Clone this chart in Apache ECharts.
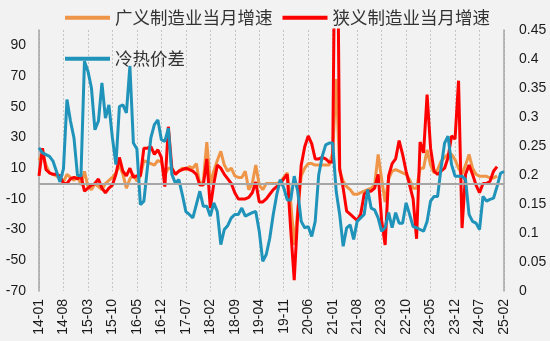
<!DOCTYPE html>
<html><head><meta charset="utf-8">
<script src="https://cdn.jsdelivr.net/npm/echarts@6/dist/echarts.min.js"></script>
<style>html,body{margin:0;padding:0;background:#f2f2f2}#c{width:550px;height:341px}</style>
</head><body><div id="c"></div>
<script>
// categories: monthly 2014-01 .. 2025-02
const startYear = 2014, monthCount = 134;
const categories = [];
for (let k = 0; k < monthCount; k++) {
  const y = startYear + Math.floor(k / 12), m = k % 12 + 1;
  categories.push(String(y).slice(2) + '-' + String(m).padStart(2, '0'));
}
const seriesNames = ['广义制造业当月增速', '狭义制造业当月增速', '冷热价差'];
const leftTickLabels = [-70, -50, -30, -10, 10, 30, 50, 70, 90];

const broadGrowth = [
  15,20,12,7,6,5,3,1,6,4,2,5,-1,8,-2,-4,0,-2,-4,0,
  2,4,7,12,6,-3,3,6,1.5,5,15,14,13,12,15,14,6,10,10,6,
  8,10,9,11,10,13,-1,1.5,27,0,8,15,21,12,8,10,5,4,4,8,
  -4,0,12,-1,-4,0,0,0,0,1,4,7,-12,-40,-18,5,10,13,13,12,
  12,12,12,12,20,68,8,1.5,-2,-4,-7,-7,-6,-5,-4,-3,-1,19,3,-12,
  3,8,9,8,7,6,2.5,-3,-3,10,10,22,12,7,9,14.5,17,19,19,15.6,
  10,6,12,19,10,6,4.7,4.7,4.7,3.6,3.6,5,null,null
];
const narrowGrowth = [
  5,23,9,7,6,6,5,0,0,3,4,3,5,-5,-3,-1,0,3,-3,-6,
  -3,-1,6,17,8,5,10,4,5,5,23,23,24,19,22,17,-2,37,10,6,
  8,9,10,9,8,6,-1,-1,16,-16,0,12,10,6,3,0,-6,-10,-10,-10,
  -9,-6,1,-12,-12,-10,-7,-4,-2,0,3,6,-30,-63,-20,12,24,31,26,16,
  16,17,16,14,14,260,10,-3,-18,-20,-22,-24,-20,-7,-5,-5,-3,6,-24,-40,
  5,13,16,28,19,8,-1,-10,-36,27,20,58,23,8,6,8,10,17,31,29,
  67,-29,6,12,6,-1,-6,0,0,1.5,8,11,null,null
];
const spread = [
  0.247,0.238,0.235,0.232,0.224,0.206,0.188,0.211,0.33,0.293,0.264,0.2,0.198,0.396,0.379,0.35,0.278,0.293,0.359,0.298,
  0.321,0.264,0.218,0.318,0.321,0.307,0.388,0.255,0.245,0.149,0.155,0.212,0.264,0.287,0.295,0.261,0.258,0.281,0.201,0.186,
  0.192,0.166,0.137,0.132,0.126,0.149,0.172,0.146,0.146,0.129,0.152,0.137,0.08,0.106,0.113,0.126,0.132,0.132,0.143,0.129,
  0.132,0.135,0.137,0.103,0.051,0.063,0.091,0.132,0.166,0.192,0.178,0.157,0.157,0.198,0.172,0.12,0.109,0.111,0.094,0.12,
  0.2,0.232,0.252,0.255,0.255,0.172,0.132,0.077,0.109,0.114,0.089,0.12,0.126,0.132,0.175,0.143,0.14,0.126,0.103,0.109,
  0.135,0.109,0.135,0.117,0.117,0.152,0.132,0.111,0.109,0.106,0.103,0.12,0.155,0.163,0.163,0.212,0.255,0.267,0.218,0.198,
  0.198,0.198,0.192,0.132,0.12,0.117,0.106,0.163,0.155,0.158,0.16,0.18,0.203,0.206
];

const labelFont = { fontFamily: 'Liberation Sans', fontSize: 14, color: '#1a1a1a' };
const legendText = { fontFamily: 'Noto Sans CJK SC', fontSize: 17.5, color: '#333333' };

const chart = echarts.init(document.getElementById('c'), null, { renderer: 'canvas' });
chart.setOption({
  animation: false,
  backgroundColor: '#f2f2f2',
  grid: { left: 39, right: 46, top: 30, bottom: 50, containLabel: false },
  legend: [
    { data: [seriesNames[0], seriesNames[1]], left: 60, top: 4, icon: 'rect', itemWidth: 45, itemHeight: 4, itemGap: 10, textStyle: legendText },
    { data: [seriesNames[2]], left: 60, top: 45, icon: 'rect', itemWidth: 45, itemHeight: 4, textStyle: legendText }
  ],
  xAxis: {
    type: 'category', data: categories, boundaryGap: false,
    axisLine: { show: false }, axisTick: { show: false },
    axisLabel: Object.assign({ interval: 6, rotate: 90, margin: 8 }, labelFont),
    splitLine: { show: true, interval: 6, lineStyle: { type: [2, 2], color: '#c4c4c4', width: 1 } }
  },
  yAxis: [
    {
      type: 'value', position: 'left', min: -70, max: 100, interval: 10,
      axisLine: { show: true, lineStyle: { color: '#a6a6a6', width: 1.5 } },
      axisTick: { show: false }, splitLine: { show: false },
      axisLabel: Object.assign({ margin: 13, formatter: v => leftTickLabels.includes(v) ? String(v) : '' }, labelFont)
    },
    {
      type: 'value', position: 'right', min: 0, max: 0.45, interval: 0.05,
      axisLine: { show: true, lineStyle: { color: '#a6a6a6', width: 1.5 } },
      axisTick: { show: false }, splitLine: { show: false },
      axisLabel: Object.assign({ margin: 15 }, labelFont)
    }
  ],
  series: [
    {
      type: 'line', name: '_zero', data: [], z: 1, silent: true,
      markLine: { silent: true, symbol: ['none', 'none'], label: { show: false },
        lineStyle: { color: '#a6a6a6', type: 'solid', width: 2 }, data: [{ yAxis: 0 }] }
    },
    { type: 'line', name: seriesNames[0], data: broadGrowth, yAxisIndex: 0, symbol: 'none', z: 2,
      itemStyle: { color: '#ef9548' }, lineStyle: { color: '#ef9548', width: 3 } },
    { type: 'line', name: seriesNames[1], data: narrowGrowth, yAxisIndex: 0, symbol: 'none', z: 3,
      itemStyle: { color: '#ff0000' }, lineStyle: { color: '#ff0000', width: 3 } },
    { type: 'line', name: seriesNames[2], data: spread, yAxisIndex: 1, symbol: 'none', z: 4,
      itemStyle: { color: '#1f93b9' }, lineStyle: { color: '#1f93b9', width: 3 } }
  ]
});
</script></body></html>
